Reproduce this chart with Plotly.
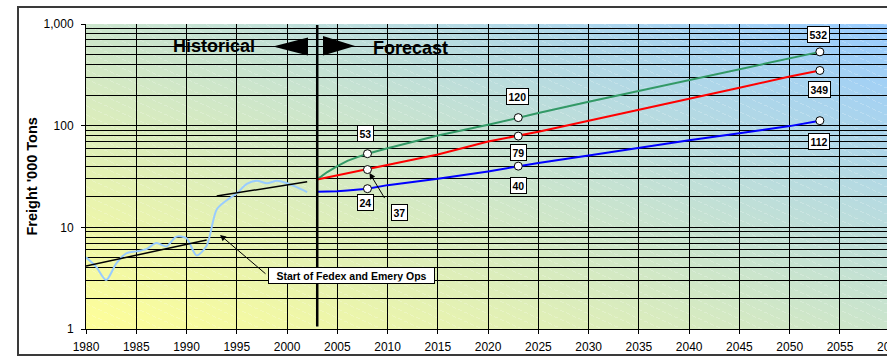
import base64
import math
import struct
import zlib

import numpy as np
import plotly.graph_objects as go

# ---------------------------------------------------------------- data
hist_years = list(range(1980, 2003))
hist_freight = [5.07, 4.1, 3.03, 4.4, 5.55, 5.8, 6.1, 7.0, 6.5, 8.1, 7.8, 5.3,
                6.6, 15.0, 18.5, 21.6, 26.7, 28.7, 27.1, 28.7, 27.1, 24.7, 22.2]

trend_early_years = [1980, 1992]
trend_early = [4.16, 7.5]
trend_late_years = [1993, 2002]
trend_late = [20.3, 28.1]

forecast_years = [2003, 2004, 2005, 2006, 2007, 2008, 2010, 2015, 2020, 2023,
                  2025, 2030, 2035, 2040, 2045, 2050, 2053]
forecast_high = [29.6, 35, 40, 45, 49, 53, 60, 80, 102, 120,
                 133, 172, 220, 283, 362, 460, 532]
forecast_mid = [29.6, 31, 32.3, 33.8, 35.4, 37, 41, 52, 70, 79,
                87, 112, 143, 183, 236, 304, 349]
forecast_low = [22.4, 22.4, 22.6, 23, 23.5, 24, 26, 30, 35.5, 40,
                43, 51, 61, 72, 84, 99, 112]

milestone_years = [2008, 2023, 2053]
divider_year = 2003

x_tick_vals = list(range(1980, 2056, 5))
y_tick_vals = [1, 10, 100, 1000]
y_tick_text = ["1", "10", "100", "1,000"]
y_minor_vals = [m * 10 ** k for k in range(3) for m in range(2, 10)]

# ---------------------------------------------------------------- geometry
W, H = 887, 357
ML, MT, MB, MR = 86, 24, 28, 0
PW, PH = W - ML - MR, H - MT - MB
PX_PER_YEAR = 10.053
X_RANGE = [1980, 1980 + PW / PX_PER_YEAR]


def fx(px):
    """page pixel x -> paper fraction"""
    return (px - ML) / PW


def fy(py):
    """page pixel y -> paper fraction"""
    return (H - MB - py) / PH


FONT = "Arial, Liberation Sans, sans-serif"
GREEN, RED, BLUE, HIST = "#339966", "#ff0000", "#0000ff", "#99ccff"


# ---------------------------------------------------------------- background
def gradient_png(w, h):
    """Diagonal yellow-to-blue fill with a faint white hatch."""
    yy, xx = np.mgrid[0:h, 0:w].astype(float)
    t = (xx / (w - 1) + 1 - yy / (h - 1)) / 2
    c0 = np.array([255, 255, 153], float)
    c1 = np.array([153, 204, 255], float)
    img = c0 + (c1 - c0) * t[..., None]
    hatch = (np.mod(yy - 0.45 * xx, 9.0) < 1.0) & (np.mod(xx, 6.0) < 4.0)
    img = np.where(hatch[..., None], img + (255 - img) * 0.22, img)
    img = img.clip(0, 255).astype(np.uint8)
    raw = b"".join(b"\x00" + img[r].tobytes() for r in range(h))

    def chunk(tag, data):
        return (struct.pack(">I", len(data)) + tag + data
                + struct.pack(">I", zlib.crc32(tag + data) & 0xFFFFFFFF))

    png = (b"\x89PNG\r\n\x1a\n"
           + chunk(b"IHDR", struct.pack(">IIBBBBB", w, h, 8, 2, 0, 0, 0))
           + chunk(b"IDAT", zlib.compress(raw, 9))
           + chunk(b"IEND", b""))
    return "data:image/png;base64," + base64.b64encode(png).decode()


fig = go.Figure()

# historical series (smoothed)
fig.add_trace(go.Scatter(x=hist_years, y=hist_freight, mode="lines",
                         line=dict(color=HIST, width=2, shape="spline", smoothing=0.8),
                         hoverinfo="skip"))
# trend lines
for xs, ys in [(trend_early_years, trend_early), (trend_late_years, trend_late)]:
    fig.add_trace(go.Scatter(x=xs, y=ys, mode="lines",
                             line=dict(color="black", width=1.5), hoverinfo="skip"))

# forecast scenarios
for vals, col in [(forecast_high, GREEN), (forecast_mid, RED), (forecast_low, BLUE)]:
    fig.add_trace(go.Scatter(x=forecast_years, y=vals, mode="lines",
                             line=dict(color=col, width=2), hoverinfo="skip"))

BOX = dict(font=dict(family=FONT, size=10.5, color="black"), bgcolor="white",
           bordercolor="black", borderwidth=1, borderpad=1.5,
           xanchor="center", yanchor="middle")

# milestone markers and value boxes
label_shift = {
    "high": [(-2, 20), (-1, 21), (-1, 17)],
    "mid": [None, (0, -16), (0, -19)],
    "low": [(-2, -14), (0, -19), (-1, -21)],
}
for key, vals in [("high", forecast_high), ("mid", forecast_mid), ("low", forecast_low)]:
    mv = [vals[forecast_years.index(yr)] for yr in milestone_years]
    fig.add_trace(go.Scatter(x=milestone_years, y=mv, mode="markers",
                             marker=dict(size=8, color="white",
                                         line=dict(color="black", width=1)),
                             hoverinfo="skip"))
    for i, (yr, v) in enumerate(zip(milestone_years, mv)):
        sh = label_shift[key][i]
        lbl = f"<b>{v:g}</b>"
        if sh is None:
            # boxed label offset with an arrow to its marker
            fig.add_annotation(x=yr, y=math.log10(v), xref="x", yref="y",
                               text="", showarrow=True, arrowhead=2, arrowsize=1.2,
                               arrowwidth=1, arrowcolor="black",
                               ax=18, ay=30, standoff=4)
            fig.add_annotation(x=yr, y=math.log10(v), xref="x", yref="y",
                               text=lbl, showarrow=False, xshift=32, yshift=-43, **BOX)
            continue
        fig.add_annotation(x=yr, y=math.log10(v), xref="x", yref="y",
                           text=lbl, showarrow=False, xshift=sh[0], yshift=sh[1], **BOX)

# historical / forecast divider
fig.add_shape(type="line", xref="x", yref="y domain", x0=divider_year, x1=divider_year,
              y0=0.008, y1=0.997, line=dict(color="black", width=2.5))

# header arrows and text
fig.add_shape(type="path", xref="paper", yref="paper", fillcolor="black",
              line=dict(width=0),
              path=f"M {fx(273)},{fy(46.5)} L {fx(308)},{fy(37.5)} L {fx(308)},{fy(55.5)} Z")
fig.add_shape(type="path", xref="paper", yref="paper", fillcolor="black",
              line=dict(width=0),
              path=f"M {fx(355)},{fy(46)} L {fx(323)},{fy(36)} L {fx(323)},{fy(55.5)} Z")
fig.add_annotation(x=fx(213.5), y=fy(45.5), xref="paper", yref="paper",
                   xanchor="center", yanchor="middle",
                   text="<b>Historical</b>", showarrow=False,
                   font=dict(family=FONT, size=18, color="black"))
fig.add_annotation(x=fx(410), y=fy(48), xref="paper", yref="paper",
                   xanchor="center", yanchor="middle",
                   text="<b>Forecast</b>", showarrow=False,
                   font=dict(family=FONT, size=18, color="black"))

# Fedex / Emery callout
fig.add_annotation(x=fx(220), y=fy(235), xref="paper", yref="paper", text="",
                   showarrow=True, arrowhead=2, arrowsize=1.2, arrowwidth=1,
                   arrowcolor="black", ax=47, ay=40)
fig.add_annotation(x=fx(351), y=fy(275.5), xref="paper", yref="paper",
                   text="<b>Start of Fedex and Emery Ops</b>", showarrow=False,
                   width=162, **BOX)

# y axis title
fig.add_annotation(x=fx(31), y=fy(176.5), xref="paper", yref="paper",
                   xanchor="center", yanchor="middle",
                   text="<b>Freight '000 Tons</b>", textangle=-90, showarrow=False,
                   font=dict(family=FONT, size=14.5, color="black"))

# next tick label, running past the right edge of the page
fig.add_annotation(x=fx(ML + (2060 - 1980) * PX_PER_YEAR), y=fy(346.5),
                   xref="paper", yref="paper", xanchor="center", yanchor="middle",
                   text="2060", showarrow=False,
                   font=dict(family=FONT, size=12, color="black"))

# outer chart border
fig.add_shape(type="rect", xref="paper", yref="paper",
              x0=fx(18), x1=fx(920), y0=fy(355), y1=fy(7),
              line=dict(color="#3a3a3a", width=2), layer="above")

fig.add_layout_image(source=gradient_png(PW, PH), xref="x domain", yref="y domain",
                     x=0, y=1, sizex=1, sizey=1, sizing="stretch",
                     xanchor="left", yanchor="top", layer="below")

fig.update_layout(
    width=W, height=H, margin=dict(l=ML, r=MR, t=MT, b=MB, pad=0),
    paper_bgcolor="white", plot_bgcolor="rgba(0,0,0,0)",
    showlegend=False, font=dict(family=FONT, size=12, color="black"),
    xaxis=dict(range=X_RANGE, tickmode="array", tickvals=x_tick_vals,
               showgrid=True, gridcolor="black", gridwidth=1,
               ticks="outside", ticklen=4, tickcolor="black",
               ticklabelstandoff=3,
               showline=True, linecolor="black", linewidth=1,
               tickfont=dict(family=FONT, size=12, color="black"),
               zeroline=False),
    yaxis=dict(type="log", range=[0, 3], tickmode="array", tickvals=y_tick_vals,
               ticktext=y_tick_text, showgrid=True, gridcolor="black", gridwidth=1,
               minor=dict(tickmode="array", tickvals=y_minor_vals, showgrid=True,
                          gridcolor="black", gridwidth=1, ticks=""),
               ticks="outside", ticklen=4, tickcolor="black",
               ticklabelstandoff=5,
               showline=True, linecolor="black", linewidth=1,
               tickfont=dict(family=FONT, size=12, color="black"),
               zeroline=False),
)

fig.write_html("out.html")
